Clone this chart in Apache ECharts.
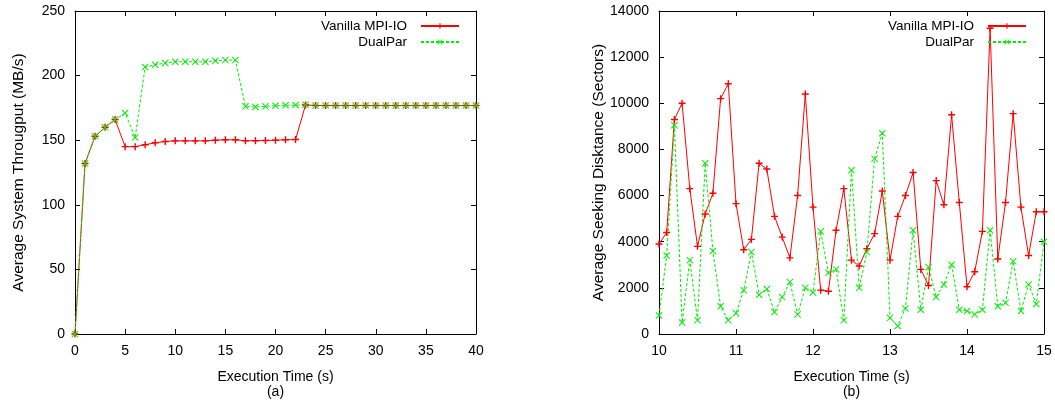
<!DOCTYPE html>
<html>
<head>
<meta charset="utf-8">
<script src="https://cdn.jsdelivr.net/npm/echarts@6/dist/echarts.min.js"></script>
<style>
  html, body { margin: 0; padding: 0; background: #fff; }
  #chart { width: 1055px; height: 405px; }
</style>
</head>
<body>
<div id="chart"></div>
<script>
// (a) throughput over time, one sample per second
const timeA = [0, 1, 2, 3, 4, 5, 6, 7, 8, 9, 10, 11, 12, 13, 14, 15, 16, 17, 18, 19, 20,
  21, 22, 23, 24, 25, 26, 27, 28, 29, 30, 31, 32, 33, 34, 35, 36, 37, 38, 39, 40];
const vanillaA = [0, 132, 153, 160, 166, 145, 145, 146.5, 148, 149, 149.5, 149.5, 149.5, 149.5,
  150, 150.3, 150.3, 149.6, 149.6, 149.8, 150, 150.3, 150.5, 177.3,
  176.8, 176.8, 176.8, 176.8, 176.8, 176.8, 176.8, 176.8, 176.8, 176.8, 176.8, 176.8, 176.8,
  176.8, 176.8, 176.8, 176.8];
const dualA = [0, 132, 153, 160, 166, 171, 152, 206.6, 208.4, 209.7, 210.7, 210.7, 210.7, 210.7,
  211.5, 212, 212, 176.2, 175.7, 176.2, 176.7, 177, 177.2, 177.4,
  176.8, 176.8, 176.8, 176.8, 176.8, 176.8, 176.8, 176.8, 176.8, 176.8, 176.8, 176.8, 176.8,
  176.8, 176.8, 176.8, 176.8];

// (b) seeking distance, one sample every 0.1 s
const timeB = [10.0, 10.1, 10.2, 10.3, 10.4, 10.5, 10.6, 10.7, 10.8, 10.9,
  11.0, 11.1, 11.2, 11.3, 11.4, 11.5, 11.6, 11.7, 11.8, 11.9,
  12.0, 12.1, 12.2, 12.3, 12.4, 12.5, 12.6, 12.7, 12.8, 12.9,
  13.0, 13.1, 13.2, 13.3, 13.4, 13.5, 13.6, 13.7, 13.8, 13.9,
  14.0, 14.1, 14.2, 14.3, 14.4, 14.5, 14.6, 14.7, 14.8, 14.9, 15.0];
const vanillaB = [3900, 4400, 9300, 10000, 6300, 3800, 5200, 6100, 10200, 10850,
  5650, 3650, 4100, 7400, 7150, 5100, 4200, 3300, 6000, 10400,
  5500, 1900, 1850, 4500, 6300, 3200, 2950, 3700, 4350, 6200,
  3200, 5100, 6000, 7000, 2800, 2100, 6650, 5600, 9500, 5700,
  2050, 2700, 4450, 13250, 3250, 5700, 9550, 5500, 3400, 5300, 5300];
const dualB = [800, 3400, 9050, 500, 3200, 600, 7400, 3600, 1200, 600,
  900, 1900, 3550, 1700, 1950, 950, 1600, 2250, 850, 2000,
  1800, 4450, 2650, 2800, 600, 7100, 2000, 3550, 7600, 8700,
  700, 350, 1100, 4500, 1050, 2900, 1600, 2150, 3000, 1050,
  1000, 850, 1050, 4500, 1200, 1350, 3150, 1000, 2150, 1300, 4000];

const FONT = 'Liberation Sans';
const PLUS = 'path://M4,0H6V4H10V6H6V10H4V6H0V4H4Z';
const CROSS = 'path://M0,1L1,0L5,4L9,0L10,1L6,5L10,9L9,10L5,6L1,10L0,9L4,5Z';

function pairs(xs, ys) {
  return xs.map((x, i) => [x, ys[i]]);
}

function axisBase(gridIndex, min, max, interval) {
  return {
    gridIndex: gridIndex,
    type: 'value',
    min: min,
    max: max,
    interval: interval,
    splitLine: { show: false },
    axisLine: { show: true, onZero: false, lineStyle: { color: '#000', width: 1 } },
    axisTick: { show: true, inside: true, length: 5, lineStyle: { color: '#000' } },
    axisLabel: {
      color: '#000', fontFamily: FONT, fontSize: 14, margin: 10,
      formatter: (v) => String(v),
    },
    nameTextStyle: { color: '#000', fontFamily: FONT, fontSize: 14, lineHeight: 15 },
    nameMoveOverlap: false,
  };
}

function mirror(axis, position) {
  return Object.assign({}, axis, {
    position: position,
    axisLabel: { show: false },
    name: '',
  });
}

function lineSeries(name, data, xi, yi, color, symbol, dashed) {
  return {
    name: name,
    type: 'line',
    xAxisIndex: xi,
    yAxisIndex: yi,
    data: data,
    symbol: symbol,
    symbolSize: 7,
    showSymbol: true,
    itemStyle: { color: color },
    lineStyle: { color: color, width: 1, type: dashed ? [3, 2] : 'solid' },
    emphasis: { disabled: true },
  };
}

function legendItem(name, right, top) {
  return {
    data: [name],
    right: right,
    top: top,
    align: 'right',
    itemWidth: 38,
    itemHeight: 7,
    padding: 0,
    selectedMode: false,
    textStyle: { color: '#000', fontFamily: FONT, fontSize: 13.5, padding: [0, 9, 0, 0] },
  };
}

const xA = Object.assign(axisBase(0, 0, 40, 5), {
  position: 'bottom', name: 'Execution Time (s)\n(a)', nameLocation: 'middle', nameGap: 36,
});
const yA = Object.assign(axisBase(0, 0, 250, 50), {
  position: 'left', name: 'Average System Througput (MB/s)', nameLocation: 'middle', nameGap: 49,
});
yA.nameTextStyle = Object.assign({}, yA.nameTextStyle, { fontSize: 15.5 });
const xB = Object.assign(axisBase(1, 10, 15, 1), {
  position: 'bottom', name: 'Execution Time (s)\n(b)', nameLocation: 'middle', nameGap: 36,
});
const yB = Object.assign(axisBase(1, 0, 14000, 2000), {
  position: 'left', name: 'Average Seeking Disktance (Sectors)', nameLocation: 'middle', nameGap: 53,
});
yB.nameTextStyle = Object.assign({}, yB.nameTextStyle, { fontSize: 15.5 });

const chart = echarts.init(document.getElementById('chart'));
chart.setOption({
  animation: false,
  backgroundColor: '#fff',
  grid: [
    { left: 75, top: 11, width: 401, height: 323, outerBoundsMode: 'none' },
    { left: 659, top: 11, width: 385, height: 323, outerBoundsMode: 'none' },
  ],
  xAxis: [xA, mirror(xA, 'top'), xB, mirror(xB, 'top')],
  yAxis: [yA, mirror(yA, 'right'), yB, mirror(yB, 'right')],
  legend: [
    legendItem('Vanilla MPI-IO', 595, 19),
    legendItem('DualPar', 595, 35),
    legendItem('Vanilla MPI-IO', 28, 19),
    legendItem('DualPar', 28, 35),
  ],
  series: [
    lineSeries('Vanilla MPI-IO', pairs(timeA, vanillaA), 0, 0, '#ff0000', PLUS, false),
    lineSeries('DualPar', pairs(timeA, dualA), 0, 0, '#00ee00', CROSS, true),
    lineSeries('Vanilla MPI-IO', pairs(timeB, vanillaB), 2, 2, '#ff0000', PLUS, false),
    lineSeries('DualPar', pairs(timeB, dualB), 2, 2, '#00ee00', CROSS, true),
  ],
});
</script>
</body>
</html>
